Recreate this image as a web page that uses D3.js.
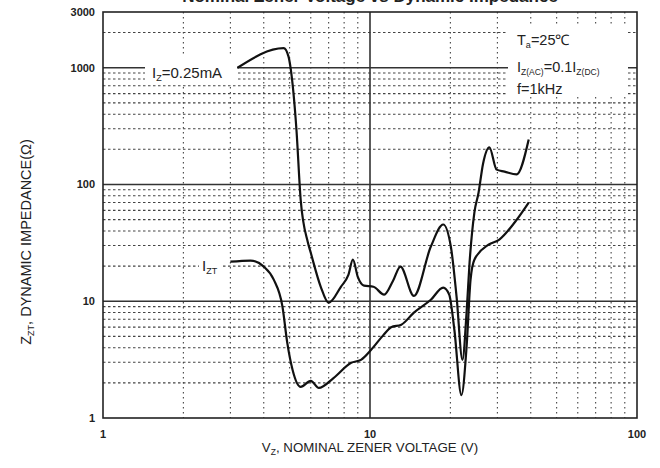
<!DOCTYPE html>
<html>
<head>
<meta charset="utf-8">
<script src="https://cdn.jsdelivr.net/npm/d3@7"></script>
<style>
  body { margin: 0; background: #fff; }
  svg { font-family: "Liberation Sans", Arial, sans-serif; }
</style>
</head>
<body>
<div id="chart"></div>
<script>
// Zener voltage (V) vs dynamic impedance (ohm)
var curveLowCurrent = [
    [3.19, 1000], [4.75, 1470], [4.95, 1250], [5.04, 1000], [5.3, 300], [5.5, 74],
    [5.85, 32], [6.0, 26], [6.54, 13.3], [7.0, 9.7], [7.78, 13.3], [8.3, 16.8],
    [8.63, 22.7], [9.0, 16.2], [9.5, 13.6], [10.3, 13.3], [11.3, 11.4], [12.2, 15],
    [13.0, 19.8], [14.6, 11.1], [16.9, 29.4], [18.8, 45.4], [20.1, 29], [21.1, 10.9],
    [22.2, 3.15], [23, 8], [23.6, 21.4], [24.6, 57.5], [25.5, 85], [26.5, 150],
    [28, 208], [29.8, 134], [31.9, 129], [35.4, 122], [39.3, 243]
];
var curveTestCurrent = [
    [3.0, 21.8], [3.57, 22.3], [4.0, 19.8], [4.36, 15.3], [4.7, 9.0], [4.9, 4.4],
    [5.13, 2.58], [5.5, 1.85], [6.0, 2.08], [6.43, 1.81], [7.3, 2.2], [8.5, 2.97],
    [9.25, 3.15], [10.1, 3.84], [11.2, 5.1], [12, 6.0], [13.1, 6.3], [14.6, 8.0],
    [16.9, 10.3], [18.8, 13.1], [19.8, 11.4], [20.7, 5.7], [22.0, 1.57], [23, 4.07],
    [23.8, 15.3], [24.6, 22.7], [27.8, 30.5], [30.5, 33.7], [34.8, 47.2], [39.3, 70]
];
var xTicks = [1, 10, 100];
var yTicks = [1, 10, 100, 1000, 3000];

var width = 660, height = 468;
var plotLeft = 103, plotRight = 637, plotTop = 12, plotBottom = 418;

var svg = d3.select("#chart").append("svg")
    .attr("width", width)
    .attr("height", height);

svg.append("rect").attr("width", width).attr("height", height).attr("fill", "#fff");

var x = d3.scaleLog().domain([1, 100]).range([plotLeft, plotRight]);
var y = d3.scaleLog().domain([1, 3000]).range([plotBottom, plotTop]);

// minor grid values
var xMinor = [], yMinor = [];
[1, 10].forEach(function (d) {
    for (var i = 2; i <= 9; i++) xMinor.push(d * i);
});
[1, 10, 100].forEach(function (d) {
    for (var i = 2; i <= 9; i++) yMinor.push(d * i);
});
yMinor.push(2000);

var grid = svg.append("g");
grid.selectAll(".vminor").data(xMinor).enter().append("line")
    .attr("x1", function (d) { return x(d); }).attr("x2", function (d) { return x(d); })
    .attr("y1", plotTop).attr("y2", plotBottom)
    .attr("stroke", "#444").attr("stroke-width", 1.1).attr("stroke-dasharray", "1.5,3.5");
grid.selectAll(".hminor").data(yMinor).enter().append("line")
    .attr("x1", plotLeft).attr("x2", plotRight)
    .attr("y1", function (d) { return y(d); }).attr("y2", function (d) { return y(d); })
    .attr("stroke", "#444").attr("stroke-width", 1.1).attr("stroke-dasharray", "2.5,2.5");

// major decade lines
grid.selectAll(".hmajor").data([10, 100, 1000]).enter().append("line")
    .attr("x1", plotLeft).attr("x2", plotRight)
    .attr("y1", function (d) { return y(d); }).attr("y2", function (d) { return y(d); })
    .attr("stroke", "#333").attr("stroke-width", 1.6);
grid.append("line")
    .attr("x1", x(10)).attr("x2", x(10)).attr("y1", plotTop).attr("y2", plotBottom)
    .attr("stroke", "#333").attr("stroke-width", 1.6);

// frame
svg.append("rect")
    .attr("x", plotLeft).attr("y", plotTop)
    .attr("width", plotRight - plotLeft).attr("height", plotBottom - plotTop)
    .attr("fill", "none").attr("stroke", "#222").attr("stroke-width", 1.6);

// white boxes behind labels
function whiteBox(x0, y0, w, h) {
    svg.append("rect").attr("x", x0).attr("y", y0).attr("width", w).attr("height", h).attr("fill", "#fff");
}
whiteBox(145, 57, 92, 28);
whiteBox(199, 250, 24, 30);
whiteBox(508, 26, 120, 70);

// curves
var line = d3.line()
    .x(function (d) { return x(d[0]); })
    .y(function (d) { return y(d[1]); })
    .curve(d3.curveMonotoneX);

svg.append("path").datum(curveLowCurrent)
    .attr("d", line).attr("fill", "none").attr("stroke", "#111").attr("stroke-width", 2.2);
svg.append("path").datum(curveTestCurrent)
    .attr("d", line).attr("fill", "none").attr("stroke", "#111").attr("stroke-width", 2.2);

// axes tick labels
svg.selectAll(".xt").data(xTicks).enter().append("text")
    .attr("x", function (d) { return x(d); }).attr("y", 438)
    .attr("text-anchor", "middle").attr("font-size", 11).attr("font-weight", "bold").attr("fill", "#222")
    .text(function (d) { return d; });
svg.selectAll(".yt").data(yTicks).enter().append("text")
    .attr("x", 95).attr("y", function (d) { return y(d) + 4; })
    .attr("text-anchor", "end").attr("font-size", 11).attr("font-weight", "bold").attr("fill", "#222")
    .text(function (d) { return d; });

// axis titles
var xTitle = svg.append("text")
    .attr("x", 370).attr("y", 452).attr("text-anchor", "middle")
    .attr("font-size", 13.3).attr("fill", "#222");
xTitle.append("tspan").text("V");
xTitle.append("tspan").attr("font-size", 8.5).attr("dy", 3).text("Z");
xTitle.append("tspan").attr("dy", -3).text(", NOMINAL ZENER VOLTAGE (V)");

var yTitle = svg.append("text")
    .attr("transform", "translate(31,242) rotate(-90)")
    .attr("text-anchor", "middle").attr("font-size", 14.5).attr("fill", "#222");
yTitle.append("tspan").text("Z");
yTitle.append("tspan").attr("font-size", 9).attr("dy", 3).text("ZT");
yTitle.append("tspan").attr("dy", -3).text(", DYNAMIC IMPEDANCE(\u03A9)");

// title, cut off by the top edge
svg.append("text")
    .attr("x", 370).attr("y", 2).attr("text-anchor", "middle")
    .attr("font-size", 17).attr("font-weight", "bold").attr("fill", "#222")
    .text("Nominal Zener Voltage vs Dynamic Impedance");

// curve labels
var lbl1 = svg.append("text").attr("x", 152).attr("y", 78).attr("font-size", 15).attr("fill", "#222");
lbl1.append("tspan").text("I");
lbl1.append("tspan").attr("font-size", 9).attr("dy", 3).text("Z");
lbl1.append("tspan").attr("dy", -3).text("=0.25mA");

var lbl2 = svg.append("text").attr("x", 202).attr("y", 271).attr("font-size", 15).attr("fill", "#222");
lbl2.append("tspan").text("I");
lbl2.append("tspan").attr("font-size", 9).attr("dy", 3).text("ZT");

// conditions box
var c1 = svg.append("text").attr("x", 517).attr("y", 45).attr("font-size", 14.5).attr("fill", "#222");
c1.append("tspan").text("T");
c1.append("tspan").attr("font-size", 9).attr("dy", 3).text("a");
c1.append("tspan").attr("dy", -3).text("=25\u2103");

var c2 = svg.append("text").attr("x", 517).attr("y", 72).attr("font-size", 14.5).attr("fill", "#222");
c2.append("tspan").text("I");
c2.append("tspan").attr("font-size", 8.5).attr("dy", 3).text("Z(AC)");
c2.append("tspan").attr("dy", -3).text("=0.1I");
c2.append("tspan").attr("font-size", 8.5).attr("dy", 3).text("Z(DC)");

svg.append("text").attr("x", 517).attr("y", 94).attr("font-size", 14.5).attr("fill", "#222").text("f=1kHz");
</script>
</body>
</html>
